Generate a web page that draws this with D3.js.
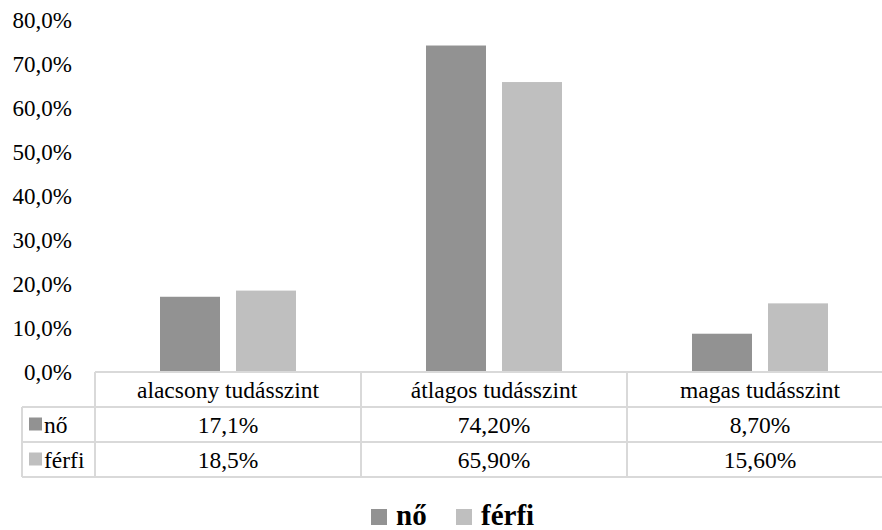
<!DOCTYPE html>
<html><head><meta charset="utf-8">
<script src="https://cdn.jsdelivr.net/npm/d3@7"></script>
<style>body{margin:0;background:#fff}svg{display:block}</style>
</head><body><svg id="c" width="882" height="530"></svg>
<script>
const categories = ["alacsony tudásszint", "átlagos tudásszint", "magas tudásszint"];
const seriesNames = ["nő", "férfi"];
const noValues = [17.1, 74.2, 8.7];
const ferfiValues = [18.5, 65.9, 15.6];
const noLabels = ["17,1%", "74,20%", "8,70%"];
const ferfiLabels = ["18,5%", "65,90%", "15,60%"];
const yTicks = [0, 10, 20, 30, 40, 50, 60, 70, 80];
const colors = ["#929292", "#bfbfbf"];

const FONT = '"Liberation Serif"';
const svg = d3.select("#c");
const T = sel => sel.style("font-family", FONT).attr("fill", "#000");
const x0 = 95, plotRight = 893, yBase = 372, yTop = 20;
const x = d3.scaleBand().domain(categories).range([x0, plotRight]);
const y = d3.scaleLinear().domain([0, 80]).range([yBase, yTop]);
const bw = 60, gap = 16;
const barX = (c, i) => x(c) + x.bandwidth()/2 + (i === 0 ? -gap/2 - bw : gap/2);

[noValues, ferfiValues].forEach((vals, si) => {
  svg.append("g").selectAll("rect").data(categories).join("rect")
    .attr("x", c => barX(c, si))
    .attr("width", bw)
    .attr("y", (c, i) => y(vals[i]))
    .attr("height", (c, i) => yBase - y(vals[i]))
    .attr("fill", colors[si]);
});

const fmt = v => d3.format(".1f")(v).replace(".", ",") + "%";
svg.append("g").selectAll("text").data(yTicks).join("text").call(T)
  .attr("x", 72).attr("y", d => y(d)).attr("dy", "0.35em")
  .attr("text-anchor", "end").attr("font-size", 23)
  .text(fmt);

const lc = "#d9d9d9", lw = 2;
const rowH = 35, tTop = yBase, r1 = tTop + rowH, r2 = r1 + rowH, r3 = r2 + rowH;
const keyL = 22;
const g = svg.append("g").attr("stroke", lc).attr("stroke-width", lw);
g.append("line").attr("x1", x0).attr("x2", 882).attr("y1", tTop).attr("y2", tTop);
[r1, r2, r3].forEach(yy => g.append("line").attr("x1", keyL).attr("x2", 882).attr("y1", yy).attr("y2", yy));
g.append("line").attr("x1", keyL).attr("x2", keyL).attr("y1", r1).attr("y2", r3);
[x0, ...categories.slice(1).map(c => x(c))].forEach(xx =>
  g.append("line").attr("x1", xx).attr("x2", xx).attr("y1", tTop).attr("y2", r3));

const tf = 23.5;
svg.append("g").selectAll("text").data(categories).join("text").call(T)
  .attr("x", c => x(c) + x.bandwidth()/2).attr("y", tTop + rowH/2).attr("dy", "0.35em")
  .attr("text-anchor", "middle").attr("font-size", tf).text(c => c);
[noLabels, ferfiLabels].forEach((labs, si) => {
  const yy = tTop + rowH * (si + 1) + rowH/2;
  svg.append("g").selectAll("text").data(categories).join("text").call(T)
    .attr("x", c => x(c) + x.bandwidth()/2).attr("y", yy).attr("dy", "0.35em")
    .attr("text-anchor", "middle").attr("font-size", tf).text((c, i) => labs[i]);
  svg.append("rect").attr("x", 29).attr("y", yy - 7).attr("width", 13).attr("height", 13).attr("fill", colors[si]);
  svg.append("text").call(T).attr("x", 44).attr("y", yy).attr("dy", "0.35em").attr("font-size", tf).text(seriesNames[si]);
});

const legX = [371, 456];
seriesNames.forEach((s, i) => {
  svg.append("rect").attr("x", legX[i]).attr("y", 509).attr("width", 16).attr("height", 16).attr("fill", colors[i]);
  svg.append("text").call(T).attr("x", legX[i] + 25).attr("y", 525).attr("font-size", 29).attr("font-weight", "bold").text(s);
});
</script></body></html>
